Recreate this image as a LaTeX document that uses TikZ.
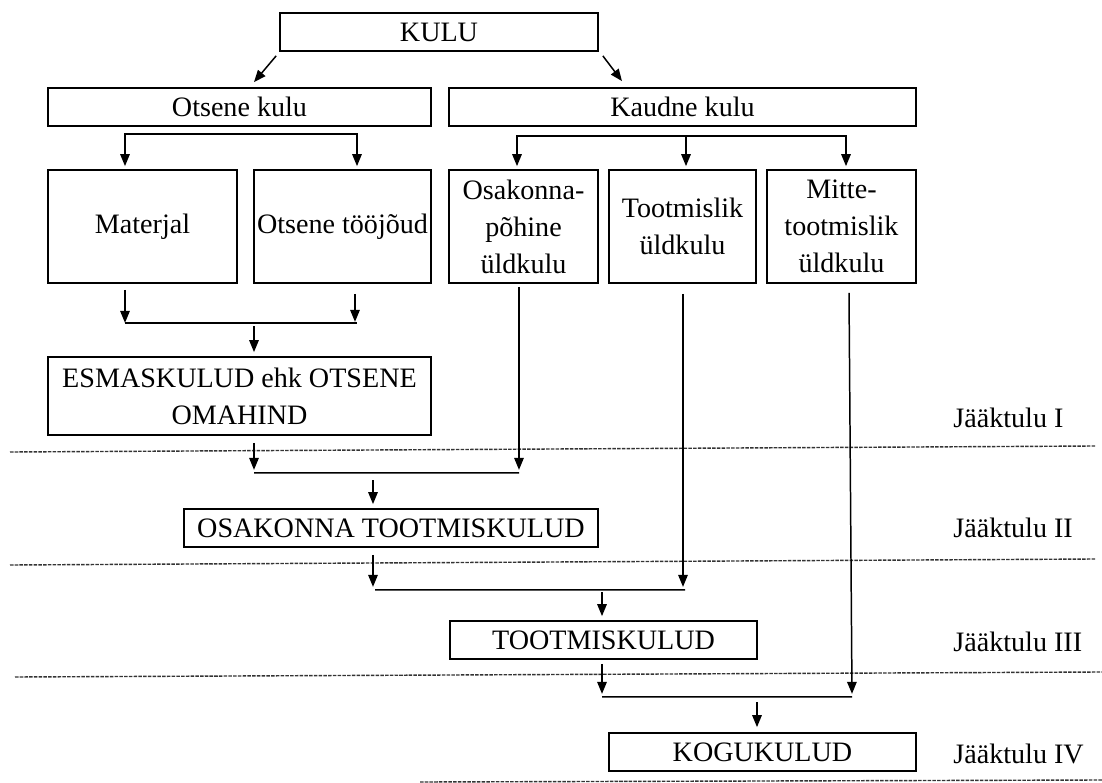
\documentclass[tikz,border=0pt]{standalone}
\usepackage{fontspec}
\setmainfont{Liberation Serif}
\usetikzlibrary{arrows.meta,calc}
\begin{document}
\begin{tikzpicture}[x=0.02cm,y=-0.02cm,
  font=\fontsize{16}{21}\selectfont,
  box/.style={draw,line width=1pt,inner sep=1pt,minimum height=0.76cm,align=center},
  tall/.style={box,minimum height=2.26cm},
  tip/.tip={Triangle[length=0.24cm,width=0.19cm]},
  arr/.style={line width=0.85pt,-tip},
  link/.style={line width=0.85pt},
  sep/.style={line width=0.8pt,black!80,dash pattern=on 2pt off 0.7pt},
  lvl/.style={anchor=west,inner sep=0pt}]
\useasboundingbox (0,0) rectangle (1102,783);

% cost categories
\node[box,minimum width=6.36cm] (kulu) at (439,32) {KULU};
\node[box,minimum width=7.66cm] (otsene) at (239.5,107) {Otsene kulu};
\node[box,minimum width=9.34cm] (kaudne) at (682.5,107) {Kaudne kulu};

\node[tall,minimum width=3.78cm] (mat) at (142.5,226.5) {Materjal};
\node[tall,minimum width=3.54cm] (tj) at (342.5,226.5) {Otsene tööjõud};
\node[tall,minimum width=2.98cm] (osak) at (523.5,226.5) {Osakonna-\\põhine\\üldkulu};
\node[tall,minimum width=2.94cm] (toot) at (682.5,226.5) {Tootmislik\\üldkulu};
\node[tall,minimum width=2.98cm] (mitte) at (841.5,226.5) {Mitte-\\tootmislik\\üldkulu};

% cost totals
\node[box,minimum width=7.66cm,minimum height=1.56cm] (esm) at (239.5,396) {ESMASKULUD ehk OTSENE\\OMAHIND};
\node[box,minimum width=8.28cm] (otk) at (391,528) {OSAKONNA TOOTMISKULUD};
\node[box,minimum width=6.14cm] (tk) at (603.5,640) {TOOTMISKULUD};
\node[box,minimum width=6.14cm] (kogu) at (762.5,752) {KOGUKULUD};

% margin levels
\node[lvl] (j1) at (953,418) {Jääktulu I};
\node[lvl] (j2) at (953,528) {Jääktulu II};
\node[lvl] (j3) at (953,642) {Jääktulu III};
\node[lvl] (j4) at (953,754) {Jääktulu IV};

% level separators
\draw[sep] (10,452) -- (1096,446);
\draw[sep] (10,565) -- (1096,559);
\draw[sep] (15,677) -- (1102,672);
\draw[sep] (420,782) -- (1102,780);

% split of KULU
\draw[arr] ($(kulu.south west)+(-3,4)$) -- ($(otsene.north)+(14.5,-5)$);
\draw[arr] ($(kulu.south east)+(4,4)$) -- ($(kaudne.north)+(-60.5,-6)$);

% split of direct costs
\draw[line width=0.85pt,tip-tip] ($(mat.north)+(-17.5,-3)$) |- ($(otsene.south)+(0,7)$)
  -| ($(tj.north)+(14.5,-3)$);

% split of indirect costs
\draw[line width=0.85pt,tip-tip] ($(osak.north)+(-6.5,-3)$) |- ($(kaudne.south)+(0,9)$)
  -| ($(mitte.north)+(4.5,-3)$);
\draw[arr] ($(kaudne.south)+(3.5,9)$) -- ($(toot.north)+(3.5,-3)$);

% direct costs into ESMASKULUD
\coordinate (m1a) at ($(mat.south)+(-17.5,39)$);
\coordinate (m1b) at ($(tj.south)+(14.5,39)$);
\draw[link] (m1a) -- (m1b);
\draw[arr] ($(mat.south)+(-17.5,6)$) -- (m1a);
\draw[arr] ($(tj.south)+(12.5,10)$) -- ($(tj.south)+(12.5,38)$);
\draw[arr] ($(esm.north)+(14.5,-30)$) -- ($(esm.north)+(14.5,-4)$);

% ESMASKULUD + department overhead
\coordinate (m2a) at ($(esm.south)+(14.5,37)$);
\coordinate (m2b) at ($(osak.south)+(-4.5,189)$);
\draw[link] (m2a) -- (m2b);
\draw[arr] ($(esm.south)+(14.5,7)$) -- ($(esm.south)+(14.5,34)$);
\draw[arr] ($(osak.south)+(-4.5,3)$) -- ($(osak.south)+(-4.5,186)$);
\draw[arr] ($(otk.north)+(-18,-28)$) -- ($(otk.north)+(-18,-4)$);

% OSAKONNA TOOTMISKULUD + production overhead
\coordinate (m3a) at ($(otk.south)+(-16,42)$);
\coordinate (m3b) at ($(toot.south)+(2.5,306)$);
\draw[link] (m3a) -- (m3b);
\draw[arr] ($(otk.south)+(-18,7)$) -- ($(otk.south)+(-18,39)$);
\draw[arr] ($(toot.south)+(0.5,10)$) -- ($(toot.south)+(0.5,303)$);
\draw[arr] ($(tk.north)+(-1.5,-28)$) -- ($(tk.north)+(-1.5,-4)$);

% TOOTMISKULUD + non-production overhead
\coordinate (m4a) at ($(tk.south)+(-1.5,37)$);
\coordinate (m4b) at ($(mitte.south)+(10.5,413)$);
\draw[link] (m4a) -- (m4b);
\draw[arr] ($(tk.south)+(-1.5,4)$) -- ($(tk.south)+(-1.5,34)$);
\draw[arr] ($(mitte.south)+(7.5,9)$) -- ($(mitte.south)+(10.5,410)$);
\draw[arr] ($(kogu.north)+(-5.5,-30)$) -- ($(kogu.north)+(-5.5,-5)$);
\end{tikzpicture}
\end{document}
